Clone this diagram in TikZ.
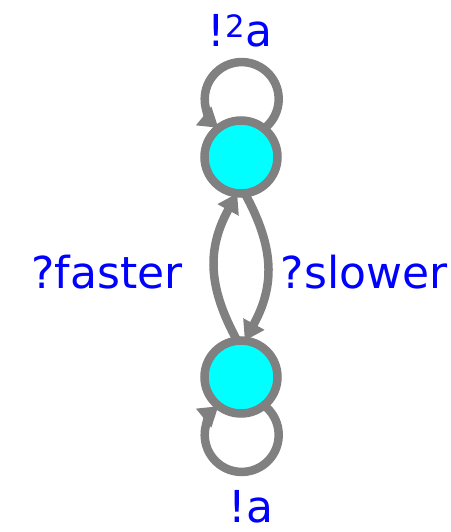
\documentclass[tikz,border=0pt]{standalone}
\usepackage{fontspec}
\setmainfont{DejaVu Sans}
\usetikzlibrary{arrows.meta}
\definecolor{edgegray}{RGB}{128,128,128}
\definecolor{statecyan}{RGB}{0,255,255}
\definecolor{lblblue}{RGB}{0,0,255}
\begin{document}
\begin{tikzpicture}[x=1pt,y=-1pt,
  statenode/.style={circle,draw=edgegray,fill=statecyan,line width=8.5pt,minimum size=73pt,inner sep=0pt,outer sep=0pt},
  edgeline/.style={draw=edgegray,line width=8.5pt,-{Triangle[length=19pt,width=23pt]}},
  lbl/.style={text=lblblue,font=\fontsize{44}{48}\selectfont,anchor=base,inner sep=0pt}]
\useasboundingbox (0,0) rectangle (450,532);
\node[statenode] (top) at (241,157) {};
\node[statenode] (bot) at (241,377) {};
% self loops
\draw[edgeline] (top.51) arc[start angle=-53,end angle=231,radius=37pt];
\draw[edgeline] (bot.-51) arc[start angle=53,end angle=-231,radius=37pt];
% middle edges
\draw[edgeline] (bot.96) .. controls +(-30,-55) and +(-30,55) .. (top.-96);
\draw[edgeline] (top.-84) .. controls +(30,55) and +(30,-55) .. (bot.84);
% labels
\node[lbl] (ltop) at (240,47) {!\textsuperscript{2}a};
\node[lbl] (lfast) at (107,288) {?faster};
\node[lbl] (lslow) at (364,288) {?slower};
\node[lbl] (lbot) at (251,522) {!a};
\end{tikzpicture}
\end{document}
